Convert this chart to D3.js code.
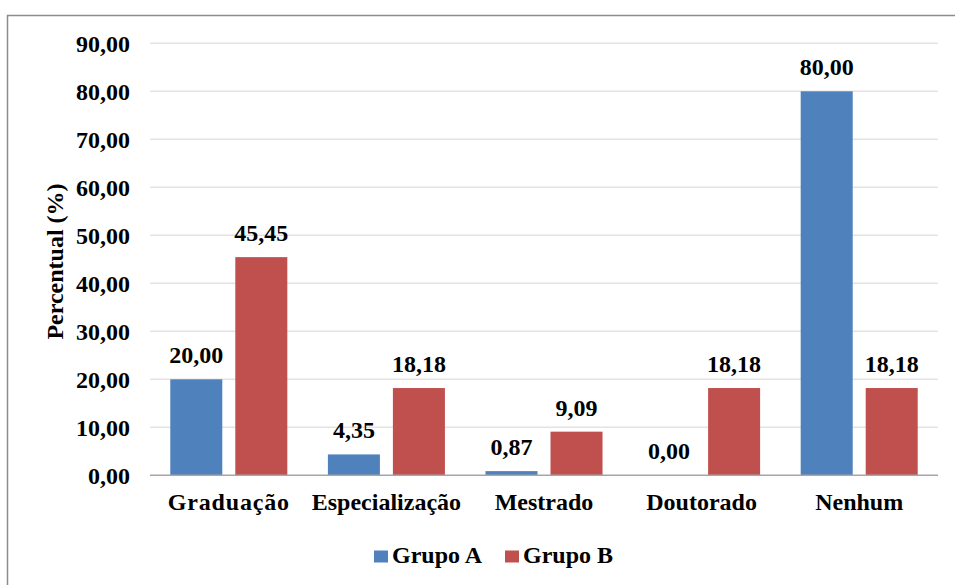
<!DOCTYPE html>
<html>
<head>
<meta charset="utf-8">
<script src="https://cdn.jsdelivr.net/npm/d3@7"></script>
<style>
  html, body { margin: 0; padding: 0; background: #fff; }
  svg { display: block; font-family: "Liberation Serif", "Times New Roman", serif; font-weight: bold; }
</style>
</head>
<body>
<svg id="chart" width="955" height="585"></svg>
<script>
// Escolaridade por grupo (percentual)
const categories = ["Graduação", "Especialização", "Mestrado", "Doutorado", "Nenhum"];
const seriesNames = ["Grupo A", "Grupo B"];
const grupoA = [20.00, 4.35, 0.87, 0.00, 80.00];
const grupoB = [45.45, 18.18, 9.09, 18.18, 18.18];
const yTicks = [0, 10, 20, 30, 40, 50, 60, 70, 80, 90];
const colors = ["#4F81BD", "#C0504D"];

const fmt = v => v.toFixed(2).replace(".", ",");
const FS = 24;

const svg = d3.select("#chart");
const W = 955, H = 585;
const plot = { left: 150, right: 938, top: 43.3, bottom: 475.3 };

// outer frame
svg.append("rect")
  .attr("x", 7.5).attr("y", 15.5)
  .attr("width", W + 10).attr("height", H + 10)
  .attr("fill", "#fff")
  .attr("stroke", "#8c8c8c").attr("stroke-width", 1.5);

const x0 = d3.scaleBand().domain(categories).range([plot.left, plot.right]).padding(0);
const x1 = d3.scaleBand().domain(seriesNames).range([0, x0.bandwidth()])
  .paddingInner(0.2).paddingOuter(0.312);
const y = d3.scaleLinear().domain([0, 90]).range([plot.bottom, plot.top]);

// gridlines
svg.append("g").selectAll("line").data(yTicks.filter(t => t > 0)).join("line")
  .attr("x1", plot.left).attr("x2", plot.right)
  .attr("y1", d => y(d)).attr("y2", d => y(d))
  .attr("stroke", "#e3e3e3").attr("stroke-width", 1.5);

// y axis labels
const yAxis = d3.axisLeft(y).tickValues(yTicks).tickFormat(fmt).tickSize(0).tickPadding(20);
const gy = svg.append("g").attr("transform", `translate(${plot.left},0)`).call(yAxis);
gy.select(".domain").remove();
gy.selectAll("text")
  .attr("font-family", "Liberation Serif, Times New Roman, serif")
  .attr("font-weight", "bold").attr("font-size", FS).attr("fill", "#000")
  .attr("dy", "0.33em");

// bars
const rows = categories.map((c, i) => ({ cat: c, vals: [grupoA[i], grupoB[i]] }));
const groups = svg.append("g").selectAll("g").data(rows).join("g")
  .attr("transform", d => `translate(${x0(d.cat)},0)`);

groups.selectAll("rect").data(d => d.vals.map((v, j) => ({ s: seriesNames[j], v, j }))).join("rect")
  .attr("x", d => x1(d.s))
  .attr("width", x1.bandwidth())
  .attr("y", d => y(d.v))
  .attr("height", d => y(0) - y(d.v))
  .attr("fill", d => colors[d.j]);

groups.selectAll("text").data(d => d.vals.map((v, j) => ({ s: seriesNames[j], v, j }))).join("text")
  .attr("x", d => x1(d.s) + x1.bandwidth() / 2)
  .attr("y", d => y(d.v) - 16)
  .attr("text-anchor", "middle")
  .attr("font-size", FS).attr("fill", "#000")
  .text(d => fmt(d.v));

// x axis baseline
svg.append("line")
  .attr("x1", plot.left).attr("x2", plot.right)
  .attr("y1", y(0)).attr("y2", y(0))
  .attr("stroke", "#a6a6a6").attr("stroke-width", 1.5);

// x axis labels
const xAxis = d3.axisBottom(x0).tickSize(0).tickPadding(0);
const gx = svg.append("g").attr("transform", `translate(0,${plot.bottom})`).call(xAxis);
gx.select(".domain").remove();
gx.selectAll("text")
  .attr("font-family", "Liberation Serif, Times New Roman, serif")
  .attr("font-weight", "bold").attr("font-size", FS).attr("fill", "#000")
  .attr("dy", null).attr("y", 35);
gx.selectAll("text").filter(d => d === "Graduação").attr("letter-spacing", 0.8);

// y axis title
svg.append("text")
  .attr("transform", "translate(63,261.5) rotate(-90)")
  .attr("text-anchor", "middle")
  .attr("font-size", FS).attr("fill", "#000")
  .text("Percentual (%)");

// legend
const legend = svg.append("g");
const legendItems = [
  { name: seriesNames[0], color: colors[0], x: 374 },
  { name: seriesNames[1], color: colors[1], x: 505 }
];
legendItems.forEach(it => {
  legend.append("rect").attr("x", it.x).attr("y", 550.5).attr("width", 14).attr("height", 12)
    .attr("fill", it.color);
  legend.append("text").attr("x", it.x + 18).attr("y", 562.5)
    .attr("font-size", FS).attr("fill", "#000").text(it.name);
});
</script>
</body>
</html>
